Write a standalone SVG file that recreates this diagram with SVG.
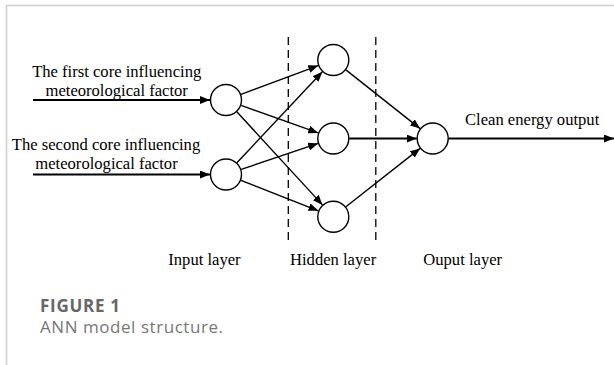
<svg xmlns="http://www.w3.org/2000/svg" width="614" height="365" viewBox="0 0 614 365">
<style>
.t{font-family:"Liberation Serif","Times New Roman",serif;font-size:16.6px;fill:#000}
.node{fill:#fff;stroke:#000;stroke-width:1.4}
.c{stroke:#000;stroke-width:1.4;fill:none;marker-end:url(#ah)}
.ct{stroke:#000;stroke-width:2.2;fill:none;marker-end:url(#ah)}
.dash{stroke:#000;stroke-width:1.3;stroke-dasharray:8 5;fill:none}
.cap{font-family:"Open Sans","Noto Sans",sans-serif}
</style>
<defs>
<marker id="ah" markerUnits="userSpaceOnUse" markerWidth="10" markerHeight="8" refX="10" refY="4" orient="auto">
<path d="M0,0 L10,4 L0,8 z" fill="#000"/>
</marker>
</defs>
<g id="frame">
<line x1="6" y1="5.5" x2="614" y2="5.5" stroke="#cfcfcf" stroke-width="1.5"/>
<line x1="6.5" y1="5" x2="6.5" y2="365" stroke="#cfcfcf" stroke-width="1.5"/>
</g>
<g id="dividers">
<line class="dash" x1="288.3" y1="37" x2="288.3" y2="242"/>
<line class="dash" x1="375.8" y1="37" x2="375.8" y2="242"/>
</g>
<g id="connectors">
<line class="ct" x1="33" y1="100" x2="210" y2="100"/>
<line class="ct" x1="33" y1="174.5" x2="210" y2="174.5"/>
<line class="c" x1="241" y1="94.4" x2="318.3" y2="65.6"/>
<line class="c" x1="241.1" y1="105.4" x2="318.2" y2="132.9"/>
<line class="c" x1="236.8" y1="111.8" x2="322.5" y2="204.9"/>
<line class="c" x1="236.9" y1="162.8" x2="322.4" y2="71.7"/>
<line class="c" x1="241.2" y1="169.4" x2="318.1" y2="143.4"/>
<line class="c" x1="240.9" y1="180.4" x2="318.4" y2="210.8"/>
<line class="c" x1="345.9" y1="69.9" x2="420.1" y2="128.6"/>
<line class="ct" x1="349.3" y1="138.5" x2="416.7" y2="138.5"/>
<line class="c" x1="345.9" y1="206.8" x2="420.1" y2="148.4"/>
<line class="ct" x1="448.5" y1="138.5" x2="614" y2="138.5"/>
</g>
<g id="input1"><circle class="node" cx="226" cy="100" r="15.5"/></g>
<g id="input2"><circle class="node" cx="226" cy="174.5" r="15.5"/></g>
<g id="hidden1"><circle class="node" cx="333.3" cy="60" r="15.5"/></g>
<g id="hidden2"><circle class="node" cx="333.3" cy="138.5" r="15.5"/></g>
<g id="hidden3"><circle class="node" cx="333.3" cy="216.7" r="15.5"/></g>
<g id="output"><circle class="node" cx="432.7" cy="138.5" r="15.5"/></g>
<g id="labels">
<text class="t" x="116.7" y="77" text-anchor="middle">The first core influencing</text>
<text class="t" x="116.7" y="95.5" text-anchor="middle">meteorological factor</text>
<text class="t" x="106" y="150" text-anchor="middle">The second core influencing</text>
<text class="t" x="106.5" y="168.5" text-anchor="middle">meteorological factor</text>
<text class="t" x="465" y="125">Clean energy output</text>
<text class="t" x="168.3" y="265">Input layer</text>
<text class="t" x="290" y="265">Hidden layer</text>
<text class="t" x="423.3" y="265">Ouput layer</text>
</g>
<g id="caption">
<text class="cap" x="40" y="311.7" font-size="17" font-weight="bold" fill="#666" textLength="80" lengthAdjust="spacing">FIGURE 1</text>
<text class="cap" x="40" y="333.3" font-size="17" fill="#777" textLength="183" lengthAdjust="spacing">ANN model structure.</text>
</g>
</svg>
